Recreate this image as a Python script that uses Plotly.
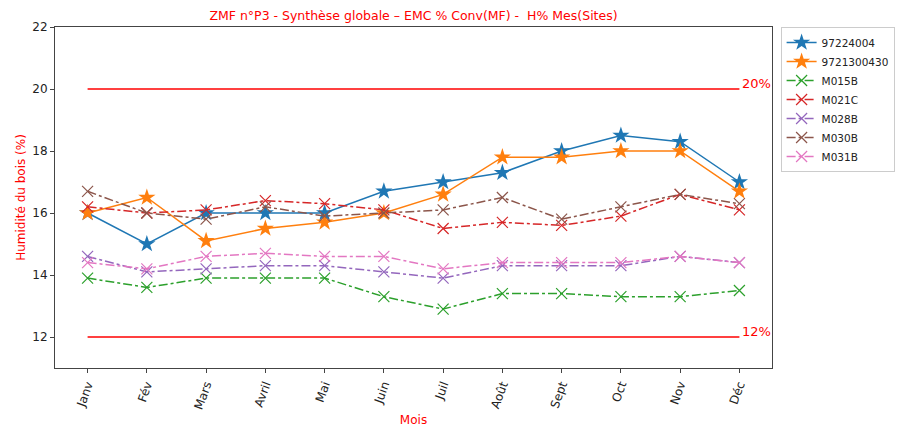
import plotly.graph_objects as go

months = ["Janv", "Fév", "Mars", "Avril", "Mai", "Juin", "Juil", "Août", "Sept", "Oct", "Nov", "Déc"]

s_97224004 = [16.0, 15.0, 16.0, 16.0, 16.0, 16.7, 17.0, 17.3, 18.0, 18.5, 18.3, 17.0]
s_9721300430 = [16.0, 16.5, 15.1, 15.5, 15.7, 16.0, 16.6, 17.8, 17.8, 18.0, 18.0, 16.7]
s_M015B = [13.9, 13.6, 13.9, 13.9, 13.9, 13.3, 12.9, 13.4, 13.4, 13.3, 13.3, 13.5]
s_M021C = [16.2, 16.0, 16.1, 16.4, 16.3, 16.1, 15.5, 15.7, 15.6, 15.9, 16.6, 16.1]
s_M028B = [14.6, 14.1, 14.2, 14.3, 14.3, 14.1, 13.9, 14.3, 14.3, 14.3, 14.6, 14.4]
s_M030B = [16.7, 16.0, 15.8, 16.2, 15.9, 16.0, 16.1, 16.5, 15.8, 16.2, 16.6, 16.3]
s_M031B = [14.4, 14.2, 14.6, 14.7, 14.6, 14.6, 14.2, 14.4, 14.4, 14.4, 14.6, 14.4]

limit_high = 20
limit_low = 12

series = [
    ("97224004", s_97224004, "#1f77b4", "star", "solid", 13),
    ("9721300430", s_9721300430, "#ff7f0e", "star", "solid", 13),
    ("M015B", s_M015B, "#2ca02c", "x-thin", "dashdot", 11),
    ("M021C", s_M021C, "#d62728", "x-thin", "dashdot", 11),
    ("M028B", s_M028B, "#9467bd", "x-thin", "dashdot", 11),
    ("M030B", s_M030B, "#8c564b", "x-thin", "dashdot", 11),
    ("M031B", s_M031B, "#e377c2", "x-thin", "dashdot", 11),
]

# page body has an 8px default margin, so the figure sits at (8, 8)
W, H = 898, 419
L, T, R, B = 47, 19, 134, 59

fig = go.Figure()

for lim in (limit_high, limit_low):
    fig.add_trace(go.Scatter(
        x=[months[0], months[-1]], y=[lim, lim], mode="lines",
        line=dict(color="red", width=1.5), showlegend=False, hoverinfo="skip"))
    fig.add_annotation(x=months[-1], y=lim, text=f"{lim}%", showarrow=False,
                       xanchor="left", yanchor="bottom", xshift=1, yshift=-4,
                       font=dict(color="red", size=13))

for name, vals, color, sym, dash, msize in series:
    marker = dict(symbol=sym, size=msize, color=color)
    if sym == "x-thin":
        marker["line"] = dict(color=color, width=1.2)
    fig.add_trace(go.Scatter(
        x=months, y=vals, name=name, mode="lines+markers",
        line=dict(color=color, width=1.5, dash=dash),
        marker=marker))

plot_left = L
plot_right = W - R
fig.update_layout(
    width=W, height=H,
    margin=dict(l=L, r=R, t=T, b=B, autoexpand=False),
    paper_bgcolor="white", plot_bgcolor="white",
    font=dict(family="DejaVu Sans", size=11, color="#222"),
    title=dict(text="ZMF n°P3 - Synthèse globale – EMC % Conv(MF) -  H% Mes(Sites)",
               x=(plot_left + plot_right) / 2 / W, xanchor="center",
               y=1 - 8 / H, yanchor="middle",
               font=dict(color="red", size=12.5)),
    legend=dict(x=1.012, xanchor="left", y=1.0, yanchor="top",
                bordercolor="#cccccc", borderwidth=1, bgcolor="white",
                font=dict(size=10.5), tracegroupgap=0, itemwidth=30),
    showlegend=True,
)

fig.update_xaxes(
    type="category", categoryorder="array", categoryarray=months,
    range=[-0.55, 11.55], tickangle=-70, automargin=False,
    showline=True, linecolor="#444", linewidth=1, mirror=True,
    ticks="outside", ticklen=4, tickcolor="#444", showgrid=False, zeroline=False,
    tickfont=dict(size=12),
    title=dict(text="Mois", font=dict(color="red", size=12), standoff=4),
)
fig.update_yaxes(
    range=[11, 22], tickvals=[12, 14, 16, 18, 20, 22], automargin=False,
    showline=True, linecolor="#444", linewidth=1, mirror=True,
    ticks="outside", ticklen=4, tickcolor="#444", showgrid=False, zeroline=False,
    tickfont=dict(size=12),
    title=dict(text="Humidité du bois (%)", font=dict(color="red", size=12), standoff=4),
)

fig.write_html("out.html")
